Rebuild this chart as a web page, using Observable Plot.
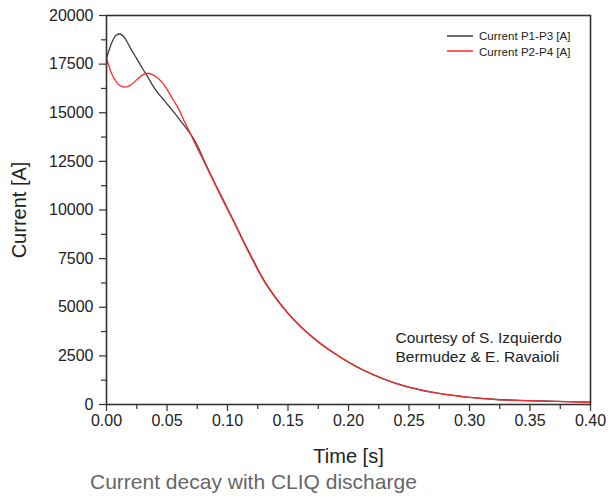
<!DOCTYPE html>
<html>
<head>
<meta charset="utf-8">
<script src="https://cdn.jsdelivr.net/npm/d3@7"></script>
<script src="https://cdn.jsdelivr.net/npm/@observablehq/plot@0.6"></script>
<style>
  body { margin: 0; background: #fff; font-family: "Liberation Sans", Arial, sans-serif; }
  #wrap { position: relative; width: 610px; }
  #legend { position: absolute; left: 447px; top: 28px; font-size: 11.6px; color: #222; line-height: 15.5px; }
  #legend .row { display: flex; align-items: center; white-space: nowrap; }
  #legend svg { margin-right: 6px; }
  #caption { margin-top: 0px; padding-left: 90px; font-size: 21px; line-height: 24px; color: #666; }
</style>
</head>
<body>
<div id="wrap">
  <div id="chart"></div>
  <div id="legend"></div>
</div>
<div id="caption"></div>
<script>
const timeS = [0,0.004,0.008,0.011,0.015,0.020,0.025,0.030,0.034,0.038,0.042,0.046,0.050,0.055,0.060,0.064,0.068,0.072,0.075,0.080,0.085,0.090,0.095,0.100,0.105,0.110,0.115,0.120,0.125,0.130,0.140,0.150,0.160,0.170,0.180,0.190,0.200,0.210,0.220,0.230,0.240,0.250,0.260,0.270,0.280,0.290,0.300,0.320,0.340,0.360,0.380,0.400];
const currentP1P3 = [17800,18550,18980,19050,18850,18300,17780,17250,16850,16420,16060,15760,15460,15080,14680,14360,14030,13660,13330,12630,11960,11320,10700,10080,9460,8820,8180,7570,6970,6410,5480,4700,4040,3480,2990,2570,2180,1840,1550,1290,1070,890,745,625,525,440,370,270,215,180,148,118];
const currentP2P4 = [17800,17050,16600,16400,16320,16420,16700,16950,17030,16960,16800,16560,16200,15680,15150,14600,14100,13570,13180,12560,11920,11280,10650,10030,9410,8770,8130,7520,6920,6370,5450,4670,4015,3460,2975,2560,2170,1832,1543,1285,1066,886,742,622,522,437,367,267,212,177,145,115];
const seriesNames = ["Current P1-P3 [A]", "Current P2-P4 [A]"];
const seriesColors = ["#3c3c3c", "#ff2a2a"];
const xTicks = [0, 0.05, 0.10, 0.15, 0.20, 0.25, 0.30, 0.35, 0.40];
const xMinorTicks = [0.025, 0.075, 0.125, 0.175, 0.225, 0.275, 0.325, 0.375];
const yTicks = [0, 2500, 5000, 7500, 10000, 12500, 15000, 17500, 20000];
const yMinorTicks = [1250, 3750, 6250, 8750, 11250, 13750, 16250, 18750];
const xLabel = "Time [s]";
const yLabel = "Current [A]";
const annotation = "Courtesy of S. Izquierdo\nBermudez & E. Ravaioli";
const captionText = "Current decay with CLIQ discharge";

const rows = [];
[currentP1P3, currentP2P4].forEach((vals, si) => {
  vals.forEach((v, i) => rows.push({series: seriesNames[si], t: timeS[i], i: v}));
});

const font = "Liberation Sans, Arial, sans-serif";
const chart = Plot.plot({
  width: 610,
  height: 470,
  marginLeft: 106,
  marginRight: 20,
  marginTop: 15,
  marginBottom: 66,
  style: {fontFamily: font, color: "#222", background: "#fff"},
  x: {domain: [0, 0.4]},
  y: {domain: [0, 20000]},
  color: {domain: seriesNames, range: seriesColors},
  marks: [
    Plot.axisX(xMinorTicks, {tickSize: 5, text: null, stroke: "#333", strokeWidth: 1.2, label: null}),
    Plot.axisY(yMinorTicks, {tickSize: 5, text: null, stroke: "#333", strokeWidth: 1.2, label: null}),
    Plot.axisX(xTicks, {tickSize: 7, tickPadding: 3, tickFormat: d3.format(".2f"), fontSize: 16, stroke: "#333", strokeWidth: 1.2,
      label: xLabel, labelAnchor: "center", labelArrow: "none", labelOffset: 58}),
    Plot.axisY(yTicks, {tickSize: 7, tickPadding: 6, tickFormat: d3.format("d"), fontSize: 16, stroke: "#333", strokeWidth: 1.2,
      label: yLabel, labelAnchor: "center", labelArrow: "none", labelOffset: 95}),
    Plot.line(rows, {x: "t", y: "i", z: "series", stroke: "series", strokeWidth: 1.3, curve: "monotone-x"}),
    Plot.frame({stroke: "#333", strokeWidth: 1.6}),
    Plot.text([annotation], {text: d => d, frameAnchor: "bottom-right", textAnchor: "start", lineAnchor: "middle",
      dx: -195, dy: -58, fontSize: 15.5, lineHeight: 1.2, fill: "#222"})
  ]
});
chart.querySelectorAll("g[aria-label='x-axis label'] text, g[aria-label='y-axis label'] text").forEach(t => t.setAttribute("font-size", 20));
document.getElementById("chart").appendChild(chart);

const legend = document.getElementById("legend");
seriesNames.forEach((name, k) => {
  const row = document.createElement("div");
  row.className = "row";
  row.innerHTML = `<svg width="26" height="4"><line x1="0" x2="26" y1="2" y2="2" stroke="${seriesColors[k]}" stroke-width="1.5"/></svg><span>${name}</span>`;
  legend.appendChild(row);
});
document.getElementById("caption").textContent = captionText;
</script>
</body>
</html>
